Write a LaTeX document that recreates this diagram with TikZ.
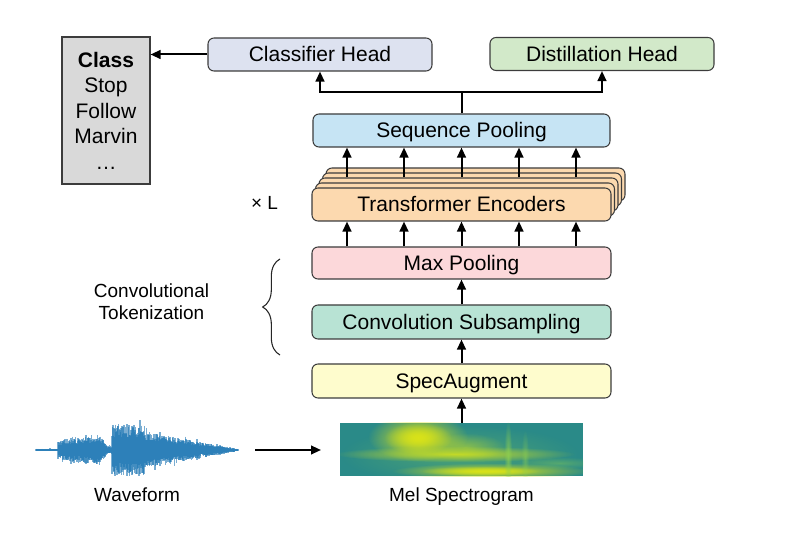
\documentclass[tikz,border=0pt]{standalone}
\usepackage{fontspec}
\setmainfont{Liberation Sans}
\usetikzlibrary{arrows.meta,decorations.pathreplacing,calc,fadings}
\definecolor{boxline}{HTML}{3C3C3C}
\definecolor{classfill}{HTML}{D9D9D9}
\definecolor{chfill}{HTML}{DDE2F0}
\definecolor{dhfill}{HTML}{D2E9C9}
\definecolor{spfill}{HTML}{C6E4F4}
\definecolor{tefill}{HTML}{FCD9AF}
\definecolor{mpfill}{HTML}{FCD8DA}
\definecolor{csfill}{HTML}{B8E3D4}
\definecolor{safill}{HTML}{FEFCCD}
\definecolor{wavec}{HTML}{1F77B4}
\definecolor{specbg}{HTML}{2A8A88}
\definecolor{specY}{HTML}{D8E219}
\definecolor{specG}{HTML}{8FD14F}
\tikzfading[name=glow, inner color=transparent!0, outer color=transparent!100]
\begin{document}
\begin{tikzpicture}[x=0.75pt,y=-0.75pt,
  box/.style={draw=boxline, line width=0.8pt, rounded corners=4.5pt,
    minimum height=24.75pt, minimum width=224.25pt, inner sep=0pt,
    text height=10.8pt, text depth=0pt,
    font=\fontsize{15.75}{18}\selectfont},
  arr/.style={-{Triangle[length=7.5pt,width=6.5pt]}, line width=1.5pt, draw=black},
  plain/.style={line width=1.5pt, draw=black},
  lbl/.style={font=\fontsize{14.25}{16}\selectfont, align=center, inner sep=0pt},
  wave/.style={draw=wavec, line width=0.8pt, opacity=0.6},
  blob/.style={path fading=glow}]
\useasboundingbox (0,0) rectangle (801,538);

% class list
\node[draw=boxline, line width=0.8pt, fill=classfill, minimum width=66pt, minimum height=110.25pt,
  inner sep=0pt, align=center, font=\fontsize{15.75}{19.1}\selectfont] (cl) at (106,110.5)
  {\textbf{Class}\\Stop\\Follow\\Marvin\\…};

% heads
\node[box, fill=chfill, minimum width=168pt] (ch) at (320,54.5) {Classifier Head};
\node[box, fill=dhfill, minimum width=168pt] (dh) at (602,54) {Distillation Head};
\node[box, fill=spfill, minimum width=222.75pt] (sp) at (461.5,130.5) {Sequence Pooling};

% transformer stack
\node[box, fill=tefill] (te4) at (475.5,184.5) {};
\node[box, fill=tefill] (te3) at (472,189.5) {};
\node[box, fill=tefill] (te2) at (468.5,194.5) {};
\node[box, fill=tefill] (te1) at (465,199.5) {};
\node[box, fill=tefill] (te) at (461.5,204.5) {Transformer Encoders};

\node[box, fill=mpfill, minimum height=24pt] (mp) at (461.5,263) {Max Pooling};
\node[box, fill=csfill, minimum height=25.5pt] (cs) at (461.5,322) {Convolution Subsampling};
\node[box, fill=safill, minimum height=25.5pt] (sa) at (461.5,381) {SpecAugment};

% spectrogram
\node[fill=specbg, minimum width=182.25pt, minimum height=39.75pt, inner sep=0pt] (spec) at (461.5,449.5) {};
\begin{scope}
  \clip (spec.north west) rectangle (spec.south east);
  \fill[specG, blob, opacity=0.35] (460,455) ellipse (120 and 30);
  \fill[specY, blob] (418,437) ellipse (50 and 24);
  \fill[specY, blob] (418,438) ellipse (34 and 16);
  \fill[specY!85!specG, blob, opacity=0.9] (455,454) ellipse (120 and 8);
  \fill[specY!85!specG, blob, opacity=0.5] (465,447) ellipse (40 and 14);
  \fill[specY, blob] (492,471) ellipse (100 and 8);
  \fill[specY, blob] (480,471) ellipse (60 and 5);
  \fill[specG, blob, opacity=0.7] (508,456) ellipse (4 and 36);
  \fill[specG, blob, opacity=0.45] (525,458) ellipse (4 and 28);
  \fill[specG, blob, opacity=0.4] (560,463) ellipse (45 and 6);
\end{scope}

% waveform
\pgfmathsetseed{42}
\foreach \x in {36,36.5,...,238} {
  \pgfmathsetmacro{\env}{(\x<58) ? 1.3 : ((\x<62) ? 9 : ((\x<100) ? (10+(\x-62)*0.14) : ((\x<108) ? (15-(\x-100)*1.4) : ((\x<112) ? 4.5 : ((\x<145) ? 26 : ((\x<200) ? (19-(\x-145)*0.2) : (8-(\x-200)*0.18)))))))}
  \pgfmathsetmacro{\spk}{(rnd>0.88) ? 1.25 : 1}
  \pgfmathsetmacro{\a}{\env*\spk*(0.5+0.5*rnd)}
  \pgfmathsetmacro{\b}{\env*\spk*(0.5+0.5*rnd)}
  \draw[wave] (\x,450-\a) -- (\x,450+\b);
}
\node[inner sep=0pt, minimum width=151.5pt, minimum height=45pt] (wave) at (137,450) {};

% labels
\node[lbl, anchor=base] (wl) at (137,501.5) {Waveform};
\node[lbl, anchor=base] (sl) at (461.5,501.5) {Mel Spectrogram};
\node[lbl] (ct) at (151.5,302) {Convolutional\\[0.6pt]Tokenization};
\node[lbl] (xl) at (264.5,203) {× L};

% brace
\draw[decorate, decoration={brace, amplitude=13pt}, line width=0.8pt, draw=black!85] (280,355) -- (280,259);

% connectors
\coordinate (wa) at (255,450);
\coordinate (wb) at (321,450);
\draw[arr] (wa) -- (wb);
\draw[arr] (spec.north) -- (sa.south);
\draw[arr] (sa.north) -- (cs.south);
\draw[arr] (cs.north) -- (mp.south);
\foreach \x in {347,404,461.5,519,576} {
  \draw[arr] (mp.north -| \x,0) -- (te.south -| \x,0);
  \draw[arr] (te2.north -| \x,0) -- (sp.south -| \x,0);
}
\coordinate (split) at (461.5,92);
\draw[plain] (sp.north) -- (split);
\draw[arr] (split) -| (ch.south);
\draw[arr] (split) -| (dh.south);
\draw[arr] (ch.west) -- (ch.west -| cl.east);
\end{tikzpicture}
\end{document}
